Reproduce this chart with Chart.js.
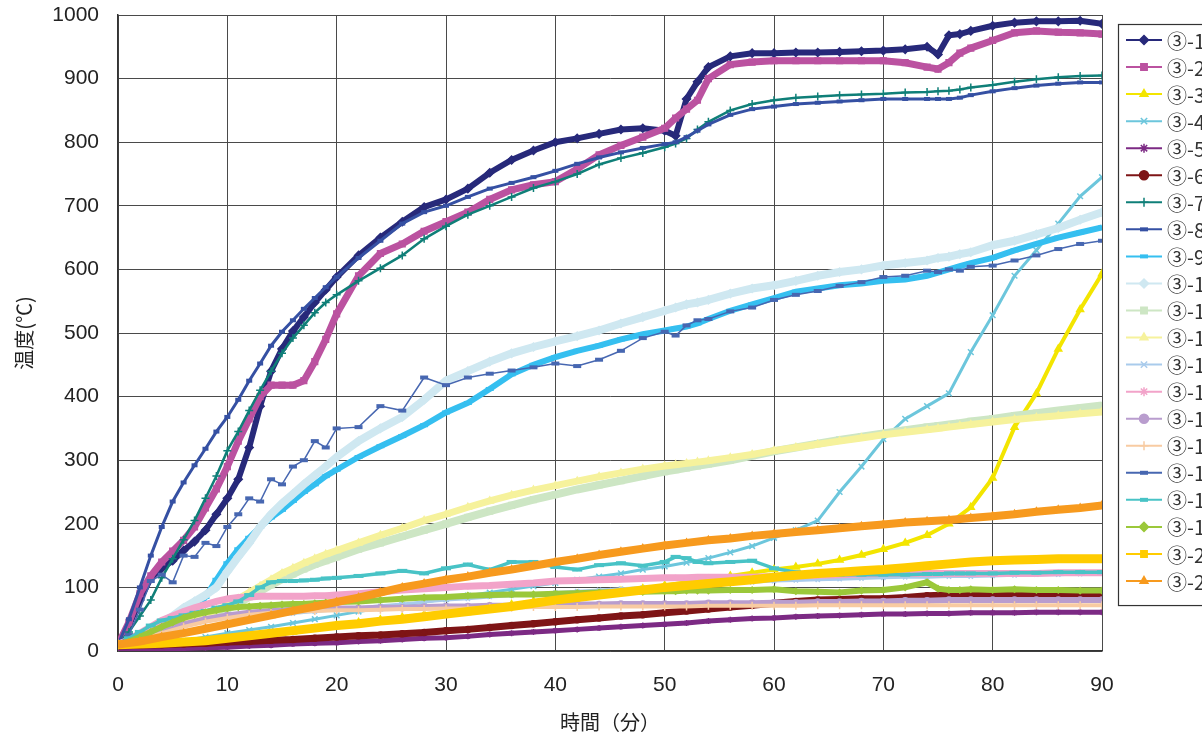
<!DOCTYPE html>
<html lang="ja">
<head>
<meta charset="utf-8">
<title>温度(℃)</title>
<script src="https://cdn.jsdelivr.net/npm/chart.js@4.4.1/dist/chart.umd.min.js"></script>
<style>
  html, body { margin: 0; padding: 0; background: #ffffff; overflow: hidden; }
  #wrap { width: 1202px; height: 742px; position: relative; }
</style>
</head>
<body>
<div id="wrap"><canvas id="chart" width="1202" height="742"></canvas></div>
<script>
// Elapsed time (minutes). Fast-changing curves use the fine grid, smooth ones the 2-minute grid.
const minutesFine = [0,1,2,3,4,5,6,7,8,9,10,11,12,13,14,15,16,17,18,19,20,
  22,24,26,28,30,32,34,36,38,40,42,44,46,48,50,51,52,53,54,
  56,58,60,62,64,66,68,70,72,74,75,76,77,78,80,82,84,86,88,90];
const minutesCoarse = [0,2,4,6,8,10,12,14,16,18,20,22,24,26,28,30,32,34,36,38,40,42,44,
  46,48,50,52,54,56,58,60,62,64,66,68,70,72,74,76,78,80,82,84,86,88,90];

const seriesLabels = ['③-1','③-2','③-3','③-4','③-5','③-6','③-7','③-8','③-9','③-10','③-11',
  '③-12','③-13','③-14','③-15','③-16','③-17','③-18','③-19','③-20','③-21'];

// Temperatures (°C)
const temp01 = [10,40,80,115,130,142,158,172,190,215,240,270,320,385,440,475,503,525,548,568,588,
  622,650,675,698,710,727,752,772,787,800,806,813,820,822,818,810,868,895,918,
  935,940,940,941,941,942,943,944,946,950,938,968,970,975,983,988,990,990,991,986];
const temp02 = [10,45,90,118,140,157,174,195,225,255,290,330,365,400,418,418,418,425,455,490,530,
  590,625,640,660,675,690,710,725,733,738,758,780,795,808,822,838,852,866,900,
  922,926,928,928,928,928,928,928,925,918,915,925,940,948,960,972,975,973,972,970];
const temp03 = [3,4,6,8,11,15,20,25,30,35,40,45,49,53,57,61,65,69,73,78,82,86,90,
  94,98,103,108,113,118,123,128,132,137,143,151,160,170,182,200,226,272,352,405,475,537,593];
const temp04 = [5,8,12,16,22,28,33,38,44,50,56,62,67,72,77,82,87,92,97,102,107,112,117,
  122,128,133,139,146,155,165,178,190,205,250,290,333,365,385,405,470,528,590,630,672,715,745];
const temp05 = [2,2,3,4,5,6,8,9,11,12,13,15,16,18,20,21,23,26,28,30,32,34,36,
  38,40,42,44,47,49,51,52,54,55,56,57,58,58,59,59,60,60,60,61,61,61,61];
const temp06 = [8,9,10,11,12,14,15,17,18,20,22,24,25,27,29,32,34,37,40,43,46,49,52,
  55,57,60,63,66,69,72,75,78,80,81,82,82,84,87,88,89,90,90,90,89,88,88];
const temp07 = [10,30,55,80,115,145,175,205,240,275,315,345,378,410,440,468,492,512,532,548,560,
  582,602,622,648,668,686,700,714,728,738,750,765,775,783,792,798,806,820,832,
  850,860,866,870,872,874,875,876,878,879,880,881,883,886,890,895,899,902,904,905];
const temp08 = [10,50,100,150,195,235,265,292,318,345,368,395,425,452,480,502,520,538,555,572,588,
  618,645,672,690,700,714,727,736,745,755,766,776,784,791,797,800,808,818,828,
  843,852,856,860,862,864,866,868,868,868,868,868,870,874,880,885,889,892,894,894];
const temp09 = [10,12,16,22,30,38,48,62,85,112,138,160,178,195,210,222,236,250,262,275,285,
  305,322,338,355,375,390,412,435,450,462,472,480,490,498,504,507,510,515,522,
  535,545,555,565,570,575,578,582,584,590,595,600,605,610,618,630,640,650,658,666];
const temp10 = [10,15,22,32,45,55,68,78,88,100,125,148,170,195,215,232,247,262,276,290,305,
  330,350,368,395,425,440,455,468,478,487,495,504,515,525,535,540,545,548,552,
  562,570,575,582,590,596,600,606,610,614,618,620,624,627,638,645,655,665,678,690];
const temp11 = [10,13,17,22,28,35,42,48,54,60,66,75,85,94,104,113,121,129,136,142,148,
  160,170,180,190,200,210,220,229,238,246,254,261,268,275,282,285,288,291,294,
  300,307,314,320,326,332,337,342,347,352,354,356,358,361,365,370,374,378,382,386];
const temp12 = [10,14,18,24,30,38,45,52,58,64,72,82,92,102,112,122,130,138,145,152,158,
  170,182,193,205,215,226,236,245,253,260,267,274,280,286,291,293,295,297,299,
  304,309,315,320,325,330,335,340,344,348,350,352,354,356,360,364,367,370,373,376];
const temp13 = [10,15,22,30,38,45,50,55,59,62,65,68,71,74,77,80,82,85,87,89,92,94,96,
  98,100,102,104,105,107,108,110,111,112,113,114,115,116,116,117,117,118,119,120,120,121,122];
const temp14 = [10,18,28,38,48,55,62,68,73,78,82,84,85,86,86,86,86,86,87,87,88,
  90,93,96,98,100,102,103,105,107,110,111,112,113,114,115,115,115,116,116,
  116,116,117,118,119,120,121,122,122,122,122,122,122,122,122,122,122,123,123,123];
const temp15 = [10,20,32,42,50,56,60,63,65,66,67,67,68,68,69,70,70,71,71,72,73,73,73,
  74,74,74,74,75,75,75,76,76,77,77,78,78,79,79,80,80,80,80,80,80,80,80];
const temp16 = [10,18,28,38,46,52,57,60,62,63,64,64,65,66,66,67,67,68,68,69,69,69,70,
  70,70,70,70,71,71,71,71,71,72,72,72,72,72,72,72,72,72,72,72,72,72,72];
const temp17 = [10,25,65,110,120,108,150,148,170,165,195,215,240,235,270,262,290,300,330,320,350,
  352,385,378,430,418,430,436,441,446,452,448,458,472,492,502,496,512,520,522,
  534,540,552,560,566,574,580,588,590,598,596,600,598,604,606,614,622,632,640,645];
const temp18 = [10,20,30,40,48,52,56,60,63,68,72,78,88,100,108,110,110,111,112,114,115,
  118,122,126,122,130,136,128,140,140,132,128,135,138,134,140,148,146,140,138,
  140,142,130,124,122,120,120,120,120,121,121,122,122,122,122,123,123,124,124,124];
const temp19 = [10,15,22,30,38,45,52,57,61,64,67,69,70,71,72,73,74,74,75,76,77,
  78,80,82,84,85,87,88,89,89,90,91,92,93,93,94,94,95,95,95,
  96,96,97,94,93,92,95,96,100,108,98,96,96,97,96,97,96,96,95,95];
const temp20 = [10,11,12,14,16,20,24,28,32,36,40,43,47,50,54,58,62,66,70,75,80,84,88,
  92,96,100,103,106,109,112,116,119,122,124,126,128,131,134,137,140,142,143,144,145,145,145];
const temp21 = [10,15,22,28,35,42,49,56,63,70,77,84,92,100,106,112,117,123,128,134,140,145,151,
  156,161,166,170,174,177,181,184,187,190,193,196,199,202,204,206,209,212,215,219,222,225,229];

const seriesValues = [temp01,temp02,temp03,temp04,temp05,temp06,temp07,temp08,temp09,temp10,temp11,
  temp12,temp13,temp14,temp15,temp16,temp17,temp18,temp19,temp20,temp21];
const seriesMinutes = [minutesFine,minutesFine,minutesCoarse,minutesCoarse,minutesCoarse,minutesCoarse,
  minutesFine,minutesFine,minutesFine,minutesFine,minutesFine,minutesFine,minutesCoarse,minutesFine,
  minutesCoarse,minutesCoarse,minutesFine,minutesFine,minutesFine,minutesCoarse,minutesCoarse];

// Per-series look: colour, marker, line width, marker size
const seriesStyles = [
  { color: '#27297a', marker: 'rectRot',  line: 6, r: 4 },
  { color: '#bb52a0', marker: 'rect',     line: 7, r: 4 },
  { color: '#f3e500', marker: 'triangle', line: 4, r: 4 },
  { color: '#6cc6dc', marker: 'crossRot', line: 3, r: 4 },
  { color: '#7c2a84', marker: 'star',     line: 5, r: 3 },
  { color: '#7e1416', marker: 'circle',   line: 7, r: 3 },
  { color: '#0f7f78', marker: 'cross',    line: 2.5, r: 4 },
  { color: '#3550a3', marker: 'line',     line: 3, r: 3 },
  { color: '#35bff0', marker: 'line',     line: 6, r: 4 },
  { color: '#cfe8f1', marker: 'rectRot',  line: 8, r: 4 },
  { color: '#cde6c4', marker: 'rect',     line: 8, r: 4 },
  { color: '#f6f29c', marker: 'triangle', line: 7, r: 4 },
  { color: '#a9cbec', marker: 'crossRot', line: 3, r: 3 },
  { color: '#f2a3c9', marker: 'star',     line: 7, r: 3 },
  { color: '#b99dce', marker: 'circle',   line: 6, r: 3 },
  { color: '#f8cba2', marker: 'cross',    line: 4, r: 4 },
  { color: '#4767b1', marker: 'line',     line: 1.5, r: 4 },
  { color: '#48c3c6', marker: 'line',     line: 3.5, r: 5 },
  { color: '#9bc83a', marker: 'rectRot',  line: 6, r: 3 },
  { color: '#ffcc00', marker: 'rect',     line: 9, r: 4 },
  { color: '#f79a1e', marker: 'triangle', line: 8, r: 4 }
];

const datasets = seriesValues.map((vals, i) => {
  const st = seriesStyles[i];
  const mins = seriesMinutes[i];
  const isBar = st.marker === 'line';
  return {
    label: seriesLabels[i],
    data: vals.map((v, k) => ({ x: mins[k], y: v })),
    borderColor: st.color,
    backgroundColor: st.color,
    borderWidth: st.line,
    pointStyle: st.marker,
    pointRadius: st.r,
    pointBorderWidth: isBar ? 4 : 1.5,
    pointBackgroundColor: st.color,
    pointBorderColor: st.color,
    pointHoverRadius: st.r,
    tension: 0,
    order: seriesValues.length - i
  };
});

// Legend panel at the right of the plot (labels run off the canvas edge)
const sideLegend = {
  id: 'sideLegend',
  afterDraw(chart) {
    const ctx = chart.ctx;
    const area = chart.chartArea;
    const left = area.right + 16;
    const top = 24;
    const rowH = 27.05;
    const n = chart.data.datasets.length;
    ctx.save();
    ctx.strokeStyle = '#333333';
    ctx.lineWidth = 1.2;
    ctx.strokeRect(left + 0.5, top + 0.5, 200, 18 + n * rowH - 5);
    chart.data.datasets.forEach((ds, i) => {
      const y = top + 16 + i * rowH;
      ctx.strokeStyle = ds.borderColor;
      ctx.lineWidth = 2;
      ctx.beginPath();
      ctx.moveTo(left + 8, y);
      ctx.lineTo(left + 44, y);
      ctx.stroke();
      ctx.fillStyle = ds.borderColor;
      ctx.strokeStyle = ds.borderColor;
      ctx.lineWidth = ds.pointStyle === 'line' ? 4 : 1.5;
      Chart.helpers.drawPoint(ctx, {
        pointStyle: ds.pointStyle,
        radius: ds.pointStyle === 'line' ? 4 : 4.5,
        borderWidth: ds.pointStyle === 'line' ? 4 : 1.5,
        rotation: 0
      }, left + 26, y);
      ctx.fillStyle = '#333333';
      ctx.font = '20px "Noto Sans CJK JP", sans-serif';
      ctx.textBaseline = 'middle';
      ctx.textAlign = 'left';
      ctx.fillText(ds.label, left + 49, y + 1);
    });
    ctx.restore();
  }
};

new Chart(document.getElementById('chart'), {
  type: 'line',
  data: { datasets },
  options: {
    responsive: false,
    animation: false,
    events: [],
    layout: { padding: { left: 0, right: 100, top: 15, bottom: 0 } },
    plugins: {
      legend: { display: false },
      tooltip: { enabled: false }
    },
    scales: {
      x: {
        type: 'linear',
        min: 0,
        max: 90,
        ticks: {
          stepSize: 10,
          padding: 22,
          color: '#222222',
          font: { family: '"Liberation Sans", Arial, sans-serif', size: 21 }
        },
        grid: { color: '#4a4a4a', lineWidth: 1, drawTicks: false },
        border: { color: '#333333', width: 1.5 },
        title: {
          display: true,
          text: '時間（分）',
          color: '#222222',
          font: { family: '"Noto Sans CJK JP", sans-serif', size: 20 },
          padding: { top: 0, bottom: 8 }
        },
        afterFit(scale) { scale.height = 91; }
      },
      y: {
        min: 0,
        max: 1000,
        ticks: {
          stepSize: 100,
          padding: 19,
          color: '#222222',
          callback: (v) => String(v),
          font: { family: '"Liberation Sans", Arial, sans-serif', size: 21 }
        },
        grid: { color: '#4a4a4a', lineWidth: 1, drawTicks: false },
        border: { color: '#333333', width: 1.5 },
        title: {
          display: true,
          text: '温度(℃)',
          color: '#222222',
          font: { family: '"Noto Sans CJK JP", sans-serif', size: 20 },
          padding: { top: 12, bottom: 0 }
        },
        afterFit(scale) { scale.width = 118; scale.paddingTop = 0; scale.paddingBottom = 0; }
      }
    }
  },
  plugins: [sideLegend]
});
</script>
</body>
</html>
